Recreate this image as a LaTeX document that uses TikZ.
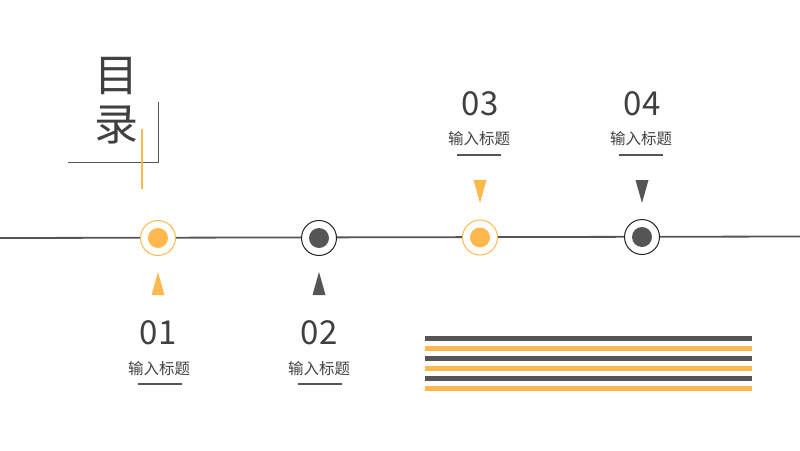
\documentclass[tikz,border=0pt]{standalone}
\usepackage{fontspec}
\setmainfont{Noto Sans CJK SC}
\definecolor{ylw}{HTML}{FDB94E}
\definecolor{drk}{HTML}{555555}
\definecolor{txt}{HTML}{404040}
\begin{document}
\begin{tikzpicture}[x=1pt,y=-1pt,
  outer/.style={circle,minimum size=35pt,inner sep=0pt,fill=white,line width=1pt},
  inner/.style={circle,minimum size=20pt,inner sep=0pt},
  num/.style={text=txt,font=\fontsize{33}{36}\selectfont,inner sep=0pt},
  sub/.style={text=txt,font=\fontsize{15.5}{18}\selectfont,inner sep=0pt},
  uline/.style={draw=drk,line width=1.5pt},
  tri/.style={line width=0pt},
  stripe/.style={line width=5pt}]
\useasboundingbox (0,0) rectangle (800,450);
% title
\node[text=txt,font=\fontsize{44}{50}\selectfont,inner sep=0pt] (t1) at (116,76) {目};
\node[text=txt,font=\fontsize{44}{50}\selectfont,inner sep=0pt] (t2) at (116,125) {录};
\coordinate (la) at (68,162.5);
\coordinate (lb) at (158.5,162.5);
\coordinate (lc) at (158.5,101.5);
\draw[drk,line width=1.2pt] (la) -- (lb) -- (lc);
\coordinate (ya) at (142,129);
\coordinate (yb) at (142,189);
\draw[ylw,line width=1.3pt] (ya) -- (yb);
% timeline
\coordinate (tl) at (0,238);
\coordinate (tr) at (800,236.5);
\draw[drk,line width=1.8pt] (tl) -- (tr);
% circles
\node[outer,draw=ylw] (c1) at (158,238) {};
\node[inner,fill=ylw] (d1) at (c1) {};
\node[outer,draw=black!85] (c2) at (319,238) {};
\node[inner,fill=drk] (d2) at (c2) {};
\node[outer,draw=ylw] (c3) at (480,237.5) {};
\node[inner,fill=ylw] (d3) at (c3) {};
\node[outer,draw=black!85] (c4) at (642,237) {};
\node[inner,fill=drk] (d4) at (c4) {};
% triangles
\fill[ylw] (151.5,295) -- (164.5,295) -- (158,272) -- cycle;
\fill[drk] (312.5,295) -- (325.5,295) -- (319,272) -- cycle;
\fill[ylw] (473.5,180) -- (486.5,180) -- (480,203) -- cycle;
\fill[drk] (635.5,180) -- (648.5,180) -- (642,203) -- cycle;
% labels bottom
\node[num] (n1) at (158,333) {01};
\node[sub] (s1) at (159,369) {输入标题};
\draw[uline] (138,384) -- (182,384);
\node[num] (n2) at (319,333) {02};
\node[sub] (s2) at (319,369) {输入标题};
\draw[uline] (298,384) -- (342,384);
% labels top
\node[num] (n3) at (480,104) {03};
\node[sub] (s3) at (479,139) {输入标题};
\draw[uline] (457,155) -- (501,155);
\node[num] (n4) at (642,104) {04};
\node[sub] (s4) at (641,139) {输入标题};
\draw[uline] (619,155) -- (663,155);
% stripes
\foreach \yy/\cc in {338.3/drk,348.3/ylw,358.3/drk,368.3/ylw,378.3/drk,388.3/ylw}
  \draw[stripe,\cc] (425,\yy) -- (752,\yy);
\end{tikzpicture}
\end{document}
